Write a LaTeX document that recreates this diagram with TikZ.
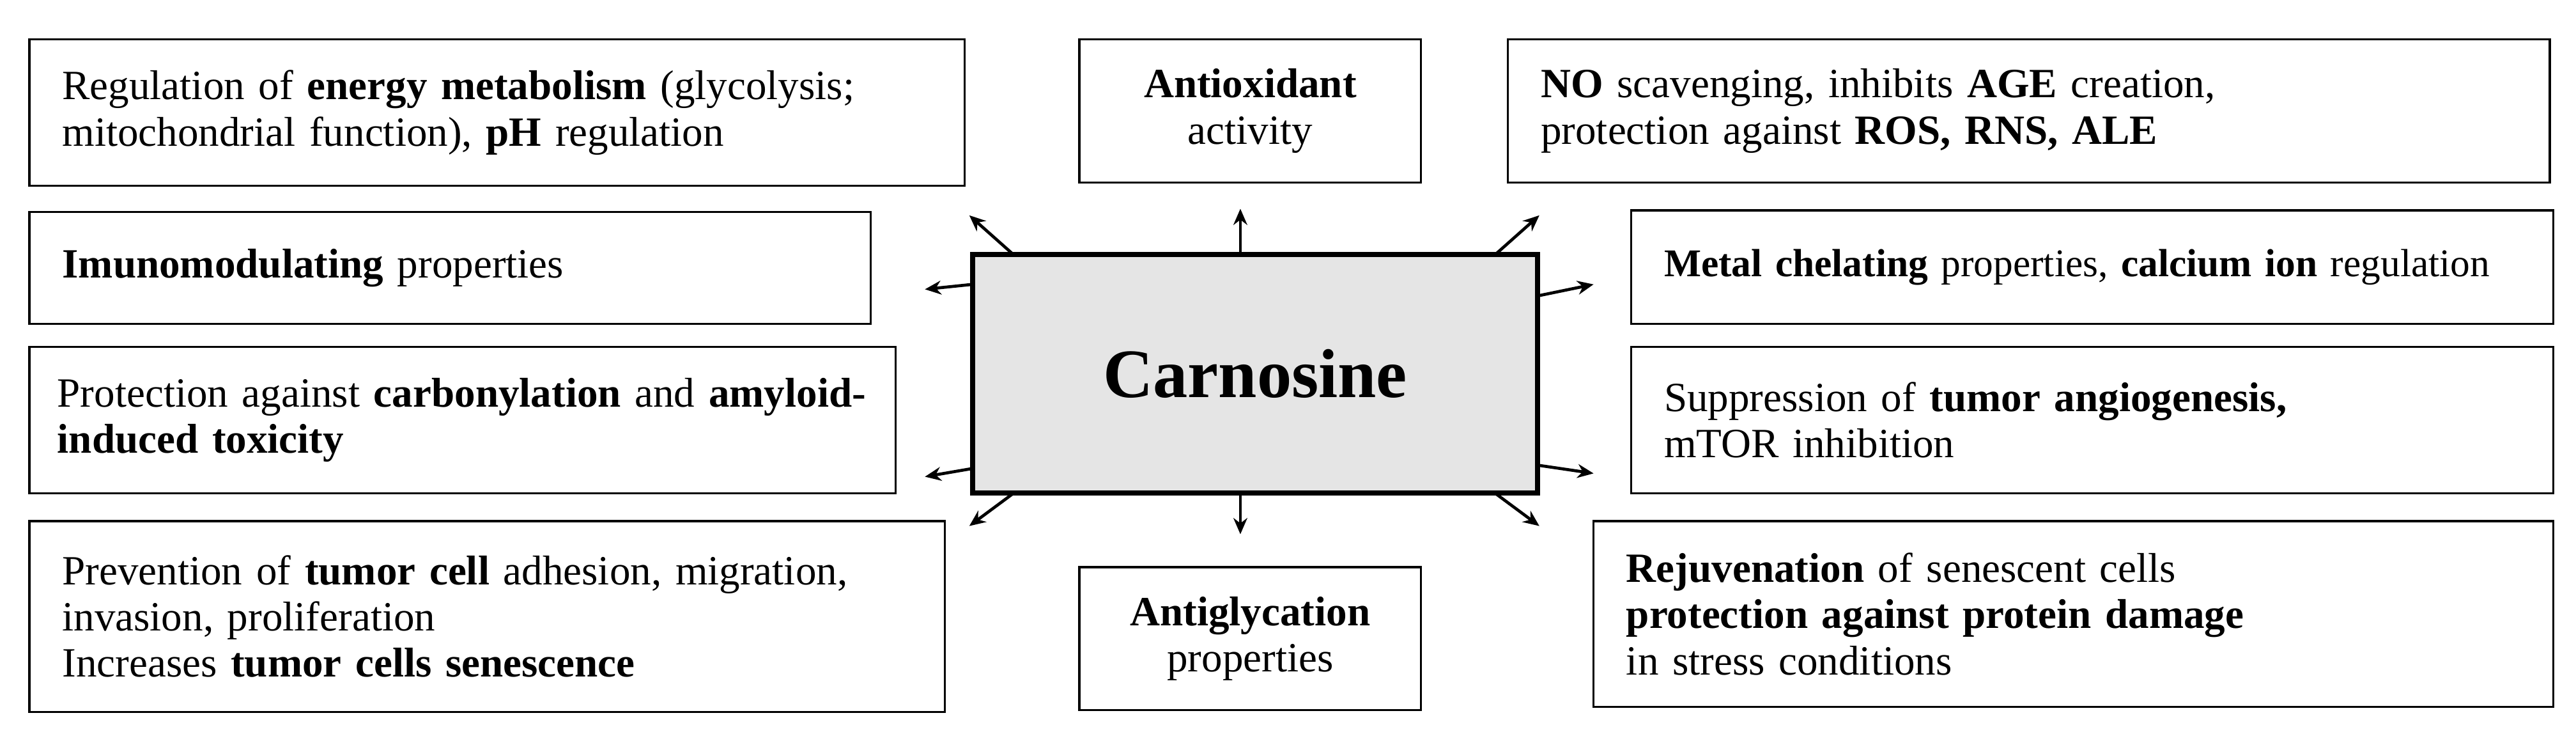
\documentclass[tikz,border=0pt]{standalone}
\usepackage{fontspec}
\setmainfont{Liberation Serif}
\usetikzlibrary{arrows.meta}
\begin{document}
\begin{tikzpicture}[x=0.025cm,y=-0.025cm,
  box/.style={draw,line width=0.9pt,inner xsep=0.5cm,inner ysep=0pt,align=left,font=\fontsize{18}{20}\selectfont},
  cbox/.style={box,align=center},
  arr/.style={-{Stealth[length=7pt,width=6pt]},line width=1.3pt}]
\useasboundingbox (0,0) rectangle (1568,452);
\node[box,text width=13.225cm,minimum height=2.225cm] (b1) at (302.5,68.5) {Regulation of \textbf{energy metabolism} (glycolysis;\\mitochondrial function), \textbf{pH} regulation};
\node[cbox,text width=4.8cm,inner xsep=0.2cm,minimum height=2.175cm] (b2) at (761,67.5) {\textbf{Antioxidant}\\activity};
\node[box,text width=14.85cm,minimum height=2.175cm] (b3) at (1235,67.5) {\textbf{NO} scavenging, inhibits \textbf{AGE} creation,\\protection against \textbf{ROS, RNS, ALE}};
\node[box,text width=11.8cm,minimum height=1.7cm] (b4) at (274,163) {\textbf{Imunomodulating} properties};
\node[box,text width=13.025cm,minimum height=1.725cm,font=\fontsize{17}{20}\selectfont] (b5) at (1273.5,162.5) {\textbf{Metal chelating} properties, \textbf{calcium ion} regulation};
\node[box,inner xsep=0.425cm,text width=12.325cm,minimum height=2.225cm] (b6) at (281.5,255.5) {Protection against \textbf{carbonylation} and \textbf{amyloid-}\\\textbf{induced toxicity}};
\node[box,text width=13.025cm,minimum height=2.225cm] (b7) at (1273.5,255.5) {Suppression of \textbf{tumor angiogenesis,}\\mTOR inhibition};
\node[box,text width=12.925cm,minimum height=2.9cm] (b8) at (296.5,375) {Prevention of \textbf{tumor cell} adhesion, migration,\\invasion, proliferation\\Increases \textbf{tumor cells senescence}};
\node[cbox,text width=4.8cm,inner xsep=0.2cm,minimum height=2.175cm] (b9) at (761,388.5) {\textbf{Antiglycation}\\properties};
\node[box,text width=13.6cm,minimum height=2.825cm] (b10) at (1262,373.5) {\textbf{Rejuvenation} of senescent cells\\\textbf{protection against protein damage}\\in stress conditions};
\node[draw,line width=2.2pt,fill=black!10,minimum width=8.6cm,minimum height=3.625cm,font=\fontsize{30}{36}\selectfont\bfseries] (c) at (764,227.5) {Carnosine};
\coordinate (s1) at (617,155); \coordinate (e1) at (590,131);
\coordinate (s2) at (755,155); \coordinate (e2) at (755,127);
\coordinate (s3) at (910,155); \coordinate (e3) at (937,131);
\coordinate (s4) at (592,173); \coordinate (e4) at (563,176);
\coordinate (s5) at (936,180); \coordinate (e5) at (970,173);
\coordinate (s6) at (592,285); \coordinate (e6) at (563,290);
\coordinate (s7) at (936,283); \coordinate (e7) at (970,288);
\coordinate (s8) at (617,300); \coordinate (e8) at (590,320);
\coordinate (s9) at (755,300); \coordinate (e9) at (755,325);
\coordinate (s10) at (910,300); \coordinate (e10) at (937,320);
\foreach \i in {1,...,10} \draw[arr] (s\i) -- (e\i);
\end{tikzpicture}
\end{document}
